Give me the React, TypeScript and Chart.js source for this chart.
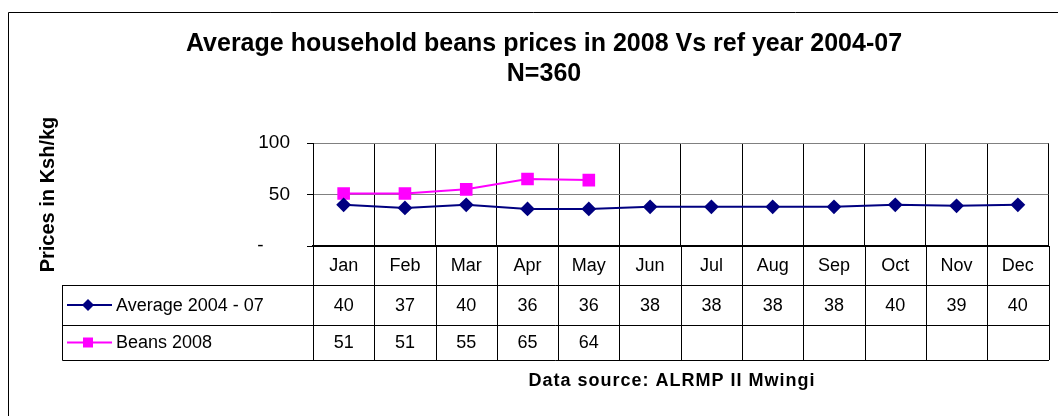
import React, { useEffect, useRef } from 'react';
import { Chart, registerables } from 'chart.js';

Chart.register(...registerables);

const months = ['Jan', 'Feb', 'Mar', 'Apr', 'May', 'Jun', 'Jul', 'Aug', 'Sep', 'Oct', 'Nov', 'Dec'];
const average2004_07 = [40, 37, 40, 36, 36, 38, 38, 38, 38, 40, 39, 40];
const beans2008: (number | null)[] = [51, 51, 55, 65, 64, null, null, null, null, null, null, null];
const seriesNames = ['Average 2004 - 07', 'Beans 2008'];
const seriesColors = ['#000080', '#FF00FF'];
const yTickValues = [0, 50, 100];
const titleLines = ['Average household beans prices in 2008 Vs ref year 2004-07', 'N=360'];
const yAxisTitle = 'Prices in Ksh/kg';
const sourceNote = 'Data source: ALRMP II Mwingi';

const FONT = '"Liberation Sans", Arial, Helvetica, sans-serif';

const tablePlugin = {
  id: 'dataTable',
  afterDraw(chart: any) {
    const { ctx, chartArea } = chart;
    const xScale = chart.scales.x;
    const L = chartArea.left;
    const R = chartArea.right;
    const cw = (R - L) / months.length;
    const yHead = chartArea.bottom;
    const y1 = 285;
    const y2 = 325;
    const y3 = 360;
    const tableLeft = 62;
    ctx.save();
    ctx.strokeStyle = '#000';
    ctx.lineWidth = 1;
    ctx.beginPath();
    for (let i = 0; i <= months.length; i++) {
      const px = Math.round(L + i * cw) + 0.5;
      ctx.moveTo(px, yHead);
      ctx.lineTo(px, y3);
    }
    [y1, y2, y3].forEach((yy) => {
      ctx.moveTo(tableLeft + 0.5, yy + 0.5);
      ctx.lineTo(R + 0.5, yy + 0.5);
    });
    ctx.moveTo(tableLeft + 0.5, y1);
    ctx.lineTo(tableLeft + 0.5, y3 + 0.5);
    ctx.stroke();

    const rows = [average2004_07, beans2008];
    const centers = [(y1 + y2) / 2, (y2 + y3) / 2];
    ctx.fillStyle = '#000';
    ctx.font = `18px ${FONT}`;
    ctx.textAlign = 'center';
    ctx.textBaseline = 'middle';
    rows.forEach((row, r) => {
      row.forEach((v, i) => {
        if (v === null || v === undefined) return;
        ctx.fillText(String(v), xScale.getPixelForValue(i), centers[r] + 1);
      });
    });

    // legend keys
    rows.forEach((_, r) => {
      const cy = centers[r];
      ctx.strokeStyle = seriesColors[r];
      ctx.fillStyle = seriesColors[r];
      ctx.lineWidth = 2;
      ctx.beginPath();
      ctx.moveTo(67, cy);
      ctx.lineTo(112, cy);
      ctx.stroke();
      ctx.beginPath();
      if (r === 0) {
        ctx.moveTo(88, cy - 6);
        ctx.lineTo(94, cy);
        ctx.lineTo(88, cy + 6);
        ctx.lineTo(82, cy);
        ctx.closePath();
      } else {
        ctx.rect(83, cy - 5, 10, 10);
      }
      ctx.fill();
      ctx.fillStyle = '#000';
      ctx.textAlign = 'left';
      ctx.fillText(seriesNames[r], 116, cy + 1);
    });

    // source note
    ctx.font = `bold 18px ${FONT}`;
    try {
      (ctx as any).letterSpacing = '1px';
    } catch (e) {
      /* ignore */
    }
    ctx.textAlign = 'center';
    ctx.fillText(sourceNote, 672, 381);
    try {
      (ctx as any).letterSpacing = '0px';
    } catch (e) {
      /* ignore */
    }

    // frame
    ctx.strokeStyle = '#000';
    ctx.lineWidth = 1;
    ctx.beginPath();
    ctx.moveTo(8.5, 416);
    ctx.lineTo(8.5, 12.5);
    ctx.lineTo(1058, 12.5);
    ctx.stroke();
    ctx.restore();
  },
};

export default function App() {
  const canvasRef = useRef<HTMLCanvasElement | null>(null);

  useEffect(() => {
    if (!canvasRef.current) return;
    const chart = new Chart(canvasRef.current, {
      type: 'line',
      data: {
        labels: months,
        datasets: [
          {
            label: seriesNames[0],
            data: average2004_07,
            borderColor: seriesColors[0],
            backgroundColor: seriesColors[0],
            borderWidth: 2,
            pointStyle: 'rectRot',
            pointRadius: 6,
            pointHoverRadius: 6,
            tension: 0,
          },
          {
            label: seriesNames[1],
            data: beans2008,
            borderColor: seriesColors[1],
            backgroundColor: seriesColors[1],
            borderWidth: 2,
            pointStyle: 'rect',
            pointRadius: 7.5,
            pointHoverRadius: 7.5,
            tension: 0,
            spanGaps: false,
          },
        ],
      },
      options: {
        responsive: false,
        animation: false,
        events: [],
        layout: { padding: { top: 0, left: 34, right: 4, bottom: 0 } },
        plugins: {
          legend: { display: false },
          tooltip: { enabled: false },
          title: {
            display: true,
            text: titleLines,
            color: '#000',
            font: { family: FONT, size: 25, weight: 'bold', lineHeight: '30px' as any },
            padding: { top: 29, bottom: 54 },
          },
        },
        scales: {
          x: {
            type: 'category',
            offset: true,
            grid: {
              offset: true,
              drawTicks: false,
              color: (c: any) => (c.index === months.length ? '#808080' : '#000'),
            },
            border: { display: true, color: '#000', width: 2 },
            ticks: { color: '#000', font: { family: FONT, size: 18 }, padding: 9, maxRotation: 0, autoSkip: false },
            afterFit: (s: any) => {
              s.height = 170;
            },
          },
          y: {
            min: 0,
            max: 100,
            afterBuildTicks: (s: any) => {
              s.ticks = yTickValues.map((v) => ({ value: v }));
            },
            grid: { color: '#808080', tickColor: '#000', tickLength: 6 },
            border: { display: true, color: '#000', width: 1 },
            ticks: {
              color: '#000',
              font: { family: FONT, size: 19 },
              padding: 17,
              callback: (v: any) => (Number(v) === 0 ? '-     ' : String(v)),
            },
            title: {
              display: true,
              text: yAxisTitle,
              color: '#000',
              font: { family: FONT, size: 20, weight: 'bold' },
              padding: { top: 2, bottom: 0 },
            },
            afterFit: (s: any) => {
              s.width = 279;
            },
          },
        },
      },
      plugins: [tablePlugin],
    });
    return () => chart.destroy();
  }, []);

  return (
    <div style={{ position: 'fixed', left: 0, top: 0, width: 1058, height: 416, background: '#fff' }}>
      <canvas ref={canvasRef} width={1058} height={416} />
    </div>
  );
}
